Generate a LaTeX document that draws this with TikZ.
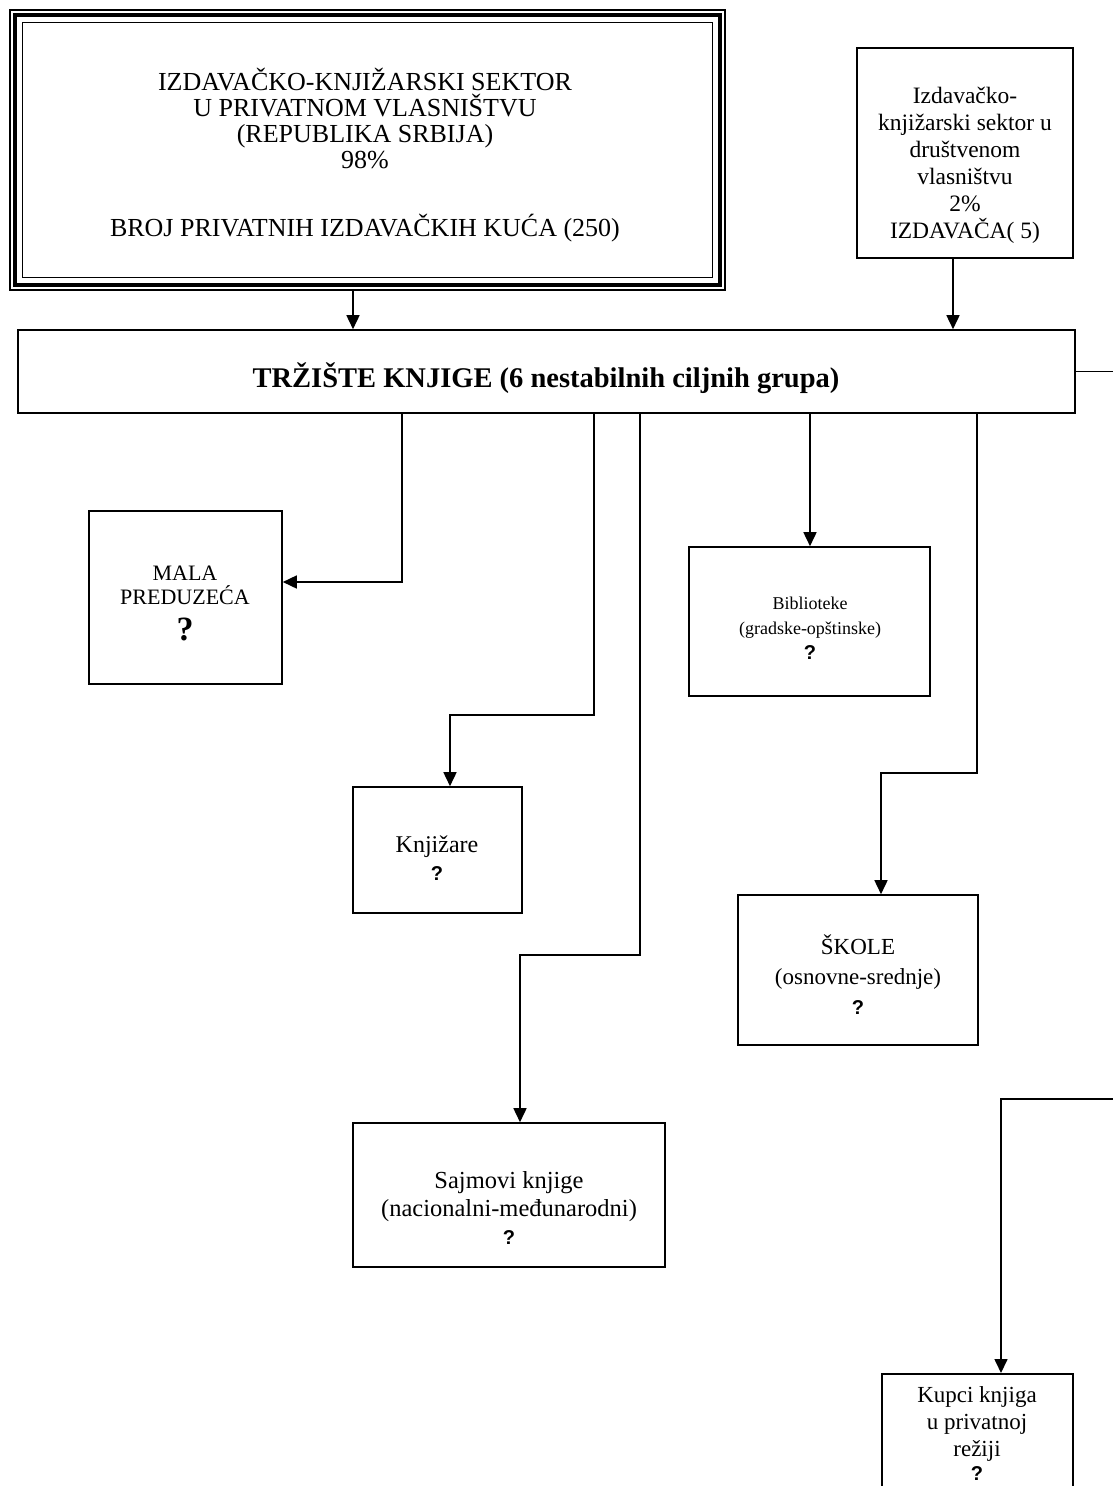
\documentclass[tikz,border=0pt]{standalone}
\usepackage{fontspec}
\setmainfont{Liberation Serif}
\newfontfamily\qfont{Liberation Sans}
\usetikzlibrary{arrows.meta}
\newcommand\myfs[2]{\fontsize{#1}{#2}\selectfont}
\newcommand\qm{{\qfont\bfseries\myfs{20}{22}?}}
\begin{document}
\begin{tikzpicture}[x=1pt,y=-1pt,
  box/.style={draw, line width=1.6pt, rectangle, inner sep=0pt},
  txt/.style={align=center, inner sep=0pt},
  arr/.style={line width=1.6pt, -{Triangle[width=13pt,length=14pt]}},
  ln/.style={line width=1.6pt}]
\useasboundingbox[fill=white] (0,0) rectangle (1113,1486);

% reference x positions
\coordinate (xa) at (353,0);
\coordinate (xb) at (953,0);
\coordinate (xc) at (402,0);
\coordinate (xd) at (594,0);
\coordinate (xe) at (450,0);
\coordinate (xf) at (640,0);
\coordinate (xg) at (520,0);
\coordinate (xh) at (810,0);
\coordinate (xi) at (977,0);
\coordinate (xj) at (881,0);
\coordinate (xk) at (1001,0);
\coordinate (edge) at (1116,0);
\coordinate (ya) at (0,582);
\coordinate (yb) at (0,715);
\coordinate (yc) at (0,955);
\coordinate (yd) at (0,773);
\coordinate (ye) at (0,1099);

% boxes
\node[box, line width=1.2pt, minimum width=715pt, minimum height=280pt] (tl) at (367.5,150) {};
\draw[line width=4pt] ([shift={(6,6)}]tl.north west) rectangle ([shift={(-6,-6)}]tl.south east);
\draw[line width=1.2pt] ([shift={(13,13)}]tl.north west) rectangle ([shift={(-13,-13)}]tl.south east);
\node[txt, font=\myfs{26}{26}] (tlt) at (365,155) {IZDAVAČKO-KNJIŽARSKI SEKTOR\\U PRIVATNOM VLASNIŠTVU\\(REPUBLIKA SRBIJA)\\98\%\\[42pt]BROJ PRIVATNIH IZDAVAČKIH KUĆA (250)};

\node[box, minimum width=216pt, minimum height=210pt] (tr) at (965,153) {};
\node[txt, font=\myfs{23.5}{27}] (trt) at (965,165) {Izdavačko-\\knjižarski sektor u\\društvenom\\vlasništvu\\2\%\\IZDAVAČA( 5)};

\node[box, minimum width=1057pt, minimum height=83pt] (mk) at (546.5,371.5) {};
\node[txt, font=\bfseries\myfs{28.5}{30}] (mkt) at (546,378) {TRŽIŠTE KNJIGE (6 nestabilnih ciljnih grupa)};

\node[box, minimum width=193pt, minimum height=173pt] (mala) at (185.5,597.5) {};
\node[txt, font=\myfs{22}{24}] (malat) at (185,603) {MALA\\PREDUZEĆA\\[12pt]{\bfseries\myfs{34}{34}?}};

\node[box, minimum width=169pt, minimum height=126pt] (knj) at (437.5,850) {};
\node[txt, font=\myfs{24}{26}] (knjt) at (437,858) {Knjižare\\[2pt]\qm};

\node[box, minimum width=312pt, minimum height=144pt] (saj) at (509,1195) {};
\node[txt, font=\myfs{24.5}{28}] (sajt) at (509,1208) {Sajmovi knjige\\(nacionalni-međunarodni)\\\qm};

\node[box, minimum width=241pt, minimum height=149pt] (bib) at (809.5,621.5) {};
\node[txt, font=\myfs{18}{25}] (bibt) at (810,628) {Biblioteke\\(gradske-opštinske)\\\qm};

\node[box, minimum width=240pt, minimum height=150pt] (sko) at (858,970) {};
\node[txt, font=\myfs{23}{30}] (skot) at (858,975) {ŠKOLE\\(osnovne-srednje)\\\qm};

\node[box, minimum width=191pt, minimum height=160pt, anchor=north] (kup) at (977.5,1373) {};
\node[txt, font=\myfs{23}{27}] (kupt) at (977,1434) {Kupci knjiga\\u privatnoj\\režiji\\[-3pt]\qm};

% connectors
\draw[arr] (tl.south -| xa) -- (mk.north -| xa);
\draw[arr] (tr.south -| xb) -- (mk.north -| xb);
\draw[arr] (mk.south -| xc) -- (xc |- ya) -- (mala.east |- ya);
\draw[arr] (mk.south -| xd) -- (xd |- yb) -- (xe |- yb) -- (knj.north -| xe);
\draw[arr] (mk.south -| xf) -- (xf |- yc) -- (xg |- yc) -- (saj.north -| xg);
\draw[arr] (mk.south -| xh) -- (bib.north -| xh);
\draw[arr] (mk.south -| xi) -- (xi |- yd) -- (xj |- yd) -- (sko.north -| xj);
\draw[ln] (mk.east) -- (mk.east -| edge);
\draw[arr] (edge |- ye) -- (xk |- ye) -- (kup.north -| xk);
\end{tikzpicture}
\end{document}
